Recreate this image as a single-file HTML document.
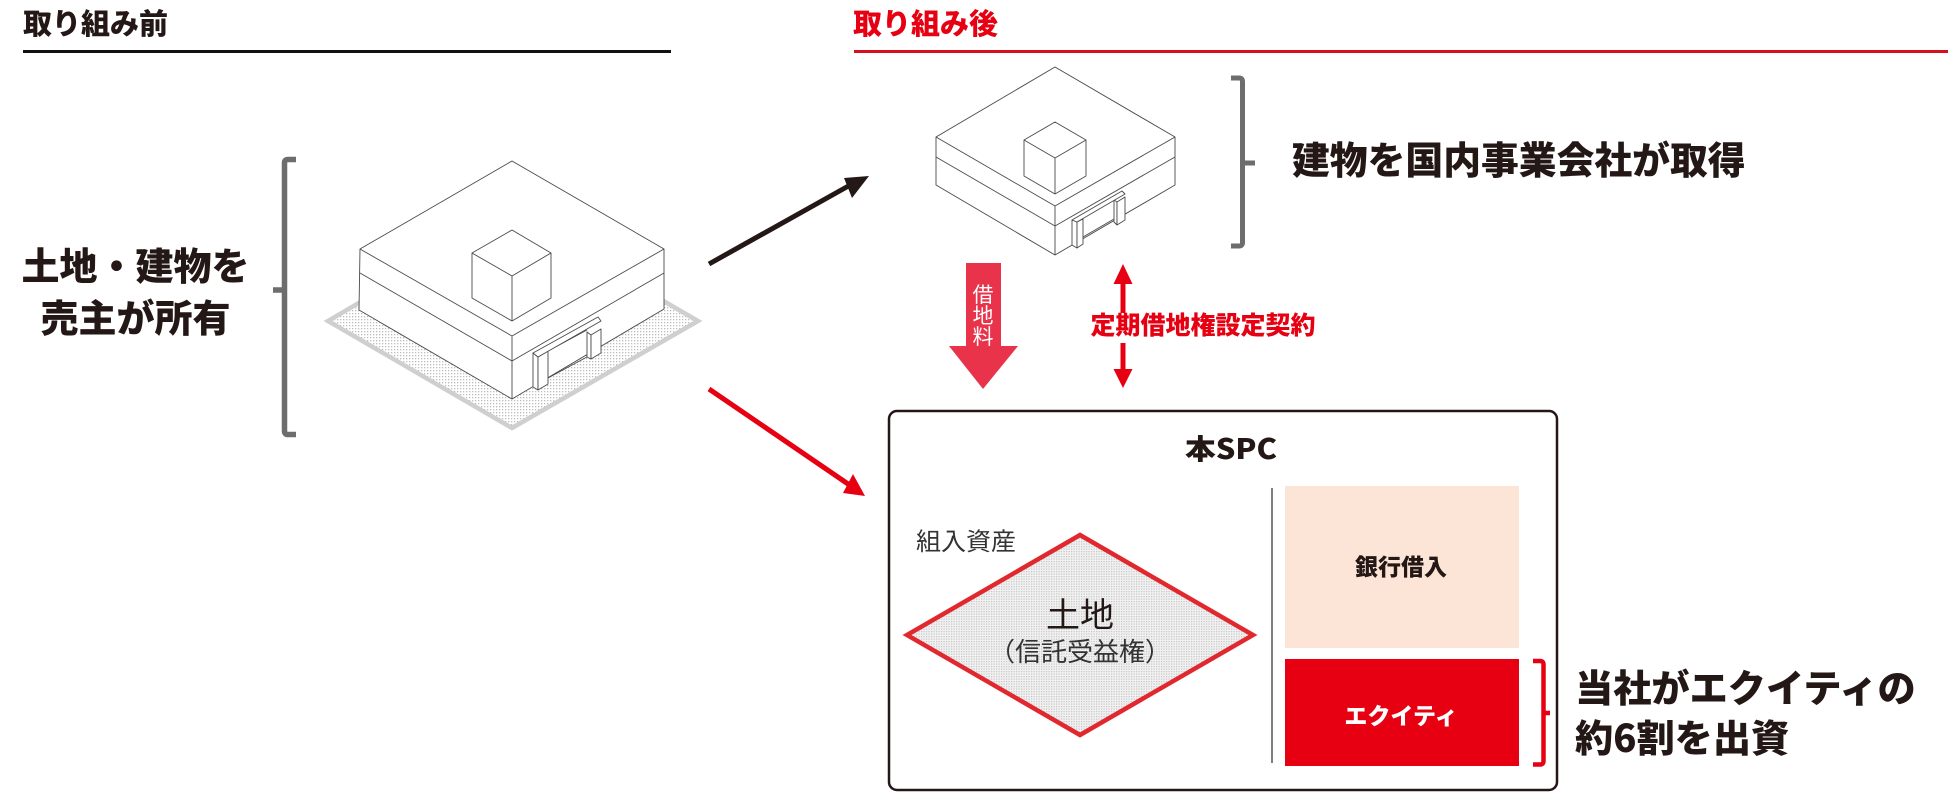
<!DOCTYPE html>
<html lang="ja"><head><meta charset="utf-8"><title>取り組み前後</title>
<style>
html,body{margin:0;padding:0;background:#fff}
svg{display:block}
text{font-family:"Noto Sans CJK JP","Liberation Sans",sans-serif;fill:#231815}
.b{font-weight:900}
.l{fill:none;stroke:#4a4a4a;stroke-width:.9;stroke-linejoin:round}
.l polygon{fill:#fff}
</style></head><body>
<svg width="1950" height="792" viewBox="0 0 1950 792" xmlns="http://www.w3.org/2000/svg">
<defs>
<pattern id="d" width="3" height="3" patternUnits="userSpaceOnUse"><rect width="3" height="3" fill="#fff"/><rect x="1" y="1" width="1.300" height="1.300" fill="#bdbdbd"/></pattern>
<pattern id="e" width="2.500" height="2.500" patternUnits="userSpaceOnUse"><rect width="2.500" height="2.500" fill="#f1f1f1"/><rect x="1" y="1" width="1.200" height="1.200" fill="#c6c6c6"/></pattern>
</defs>
<rect width="1950" height="792" fill="#fff"/>
<!-- headers -->
<text class="b" x="23" y="34" font-size="29">取り組み前</text>
<rect x="23" y="50" width="648" height="3" fill="#111"/>
<text class="b" x="853" y="34" font-size="29" style="fill:#e60012">取り組み後</text>
<rect x="854" y="50" width="1094" height="3" fill="#d7101f"/>
<!-- left labels -->
<text class="b" x="135.500" y="280" font-size="38" text-anchor="middle">土地・建物を</text>
<text class="b" x="135.500" y="332" font-size="38" text-anchor="middle">売主が所有</text>
<path d="M296 159.500H288Q284.500 159.500 284.500 163V431Q284.500 434.500 288 434.500H296M273 290H284" fill="none" stroke="#6d6d6d" stroke-width="5.500"/>
<!-- building 1 -->
<polygon points="512,213 698,321 512,428 328,321" fill="url(#d)" stroke="#cfcfcf" stroke-width="4.500"/>
<g class="l">
<polygon points="512,161 664,249 664,309 512,399 359,310 360,249"/>
<path d="M360 249L512 336L664 249M360 273L512 361L664 273M512 336V399"/>
<polygon points="512,230 551,253 551,298 512,321 472,298 472,253"/>
<path d="M472 253L512 276L551 253M512 276V321"/>
<path d="M548 351L587 330M548 378L587 357"/>
<polygon points="533,353 538,357 538,390 533,387"/>
<polygon points="538,357 548,351 548,384 538,390"/>
<polygon points="587,332 591,335 591,359 587,357"/>
<polygon points="591,335 601,329 601,353 591,359"/>
<polygon points="533,353 598,317 601,321 538,357"/>
</g>
<!-- arrows from left -->
<line x1="709" y1="264" x2="852" y2="184" stroke="#231815" stroke-width="5"/>
<polygon points="844,178 869,176 852,198" fill="#231815"/>
<line x1="709" y1="389" x2="851" y2="486" stroke="#e60012" stroke-width="5"/>
<polygon points="853,474 865,496 843,493" fill="#e60012"/>
<!-- building 2 -->
<g class="l">
<polygon points="1055,67 1175,137 1175,185 1055,255 936,185 936,137"/>
<path d="M936 137L1055 206L1175 137M936 157L1055 226L1175 157M1055 206V255"/>
<polygon points="1055,122 1086,140 1086,176 1055,194 1024,176 1024,140"/>
<path d="M1024 140L1055 158L1086 140M1055 158V194"/>
<path d="M1083 237L1114 219"/>
<polygon points="1072,220 1077,222 1077,248 1072,245"/>
<polygon points="1077,222 1083,219 1083,244 1077,248"/>
<polygon points="1114,200 1117,202 1117,225 1114,222"/>
<polygon points="1117,202 1125,197 1125,220 1117,225"/>
<polygon points="1072,220 1122,191 1125,194 1077,222"/>
</g>
<path d="M1231 78H1239Q1242.500 78 1242.500 81.500V242.500Q1242.500 246 1239 246H1231M1242 163H1255" fill="none" stroke="#6d6d6d" stroke-width="5"/>
<text class="b" x="1292" y="174" font-size="37.800">建物を国内事業会社が取得</text>
<!-- big arrow -->
<polygon points="966,263 1001,263 1001,346 1018,346 983,389 949,346 966,346" fill="#e9334a"/>
<text x="983" y="302" font-size="21" text-anchor="middle" style="fill:#fff">借</text>
<text x="983" y="323" font-size="21" text-anchor="middle" style="fill:#fff">地</text>
<text x="983" y="344" font-size="21" text-anchor="middle" style="fill:#fff">料</text>
<!-- double arrow -->
<rect x="1120.500" y="280" width="5" height="92" fill="#e60012"/>
<polygon points="1123,264 1132.500,284 1113.500,284" fill="#e60012"/>
<polygon points="1123,388 1132.500,369 1113.500,369" fill="#e60012"/>
<rect x="1089" y="313" width="229" height="30" fill="#fff"/>
<text class="b" x="1090.500" y="334" font-size="25" style="fill:#e60012">定期借地権設定契約</text>
<!-- SPC box -->
<rect x="889" y="411" width="668" height="379" rx="8" fill="#fff" stroke="#231815" stroke-width="2.500"/>
<text class="b" x="1185" y="459" font-size="28" textLength="92" lengthAdjust="spacingAndGlyphs">本SPC</text>
<line x1="1272" y1="488" x2="1272" y2="763" stroke="#555" stroke-width="1.500"/>
<rect x="1285" y="486" width="234" height="162" fill="#fce4d6"/>
<rect x="1285" y="659" width="234" height="107" fill="#e60012"/>
<text class="b" x="1401" y="575" font-size="23" text-anchor="middle">銀行借入</text>
<text class="b" x="1401" y="724" font-size="23" text-anchor="middle" style="fill:#fff">エクイティ</text>
<text x="916" y="550" font-size="24.500" textLength="100" lengthAdjust="spacingAndGlyphs" style="fill:#333">組入資産</text>
<polygon points="1080,535 1253,635 1080,735 907,635" fill="url(#e)" stroke="#e0282e" stroke-width="4.500"/>
<text x="1080" y="627" font-size="34" text-anchor="middle">土地</text>
<text x="1080" y="661" font-size="26" text-anchor="middle" style="fill:#333">（信託受益権）</text>
<!-- red bracket -->
<path d="M1533 661H1540Q1543.500 661 1543.500 664.500V761Q1543.500 764.500 1540 764.500H1533M1543 713H1550" fill="none" stroke="#e60012" stroke-width="4.500"/>
<text class="b" x="1575" y="702" font-size="38.200">当社がエクイティの</text>
<text class="b" x="1575" y="752" font-size="38.200">約6割を出資</text>
</svg>
</body></html>
